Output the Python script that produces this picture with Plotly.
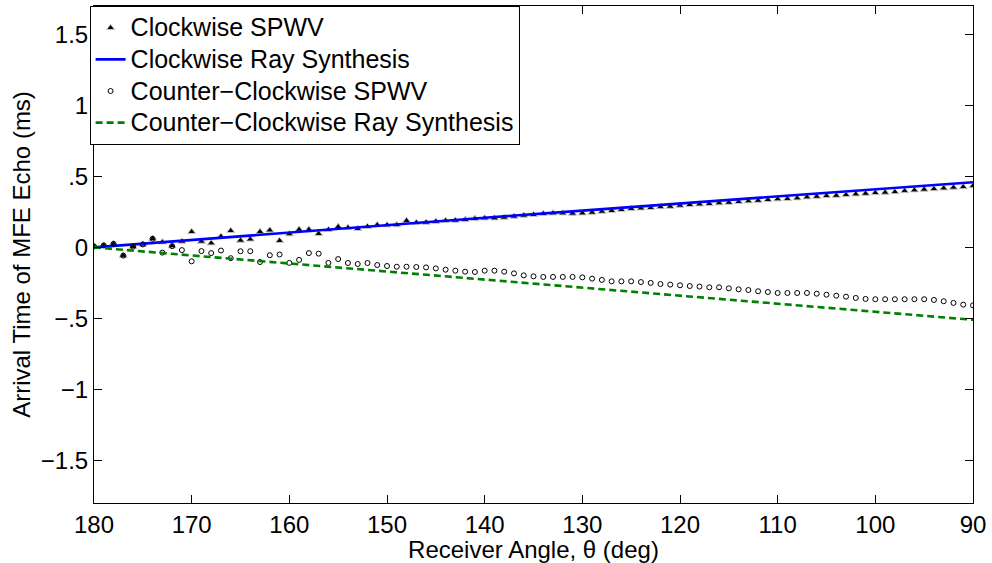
import plotly.graph_objects as go

# Receiver angles (deg), 180 -> 90 in 1-degree steps
theta = list(range(180, 89, -1))

cw_spwv = [
    0.007, 0.014, 0.025, -0.058, 0.005, 0.021, 0.061, 0.037, 0.009, 0.042,
    0.110, 0.042, 0.030, 0.077, 0.117, 0.049, 0.057, 0.110, 0.121, 0.047,
    0.094, 0.126, 0.126, 0.096, 0.124, 0.145, 0.139, 0.131, 0.146, 0.158,
    0.157, 0.158, 0.188, 0.174, 0.176, 0.183, 0.188, 0.190, 0.194, 0.201,
    0.206, 0.206, 0.211, 0.218, 0.225, 0.230, 0.237, 0.241, 0.241, 0.239,
    0.241, 0.246, 0.253, 0.258, 0.265, 0.272, 0.276, 0.279, 0.285, 0.288,
    0.295, 0.300, 0.304, 0.307, 0.312, 0.316, 0.321, 0.326, 0.330, 0.335,
    0.340, 0.342, 0.347, 0.354, 0.358, 0.363, 0.365, 0.370, 0.375, 0.379,
    0.384, 0.387, 0.391, 0.398, 0.403, 0.408, 0.412, 0.417, 0.422, 0.426,
    0.433,
]

ccw_spwv = [
    0.007, 0.014, 0.025, -0.058, 0.005, 0.021, 0.061, -0.037, 0.009, -0.019,
    -0.098, -0.026, -0.040, -0.022, -0.076, -0.027, -0.027, -0.103, -0.055, -0.050,
    -0.109, -0.088, -0.040, -0.044, -0.109, -0.082, -0.110, -0.117, -0.110, -0.124,
    -0.131, -0.136, -0.136, -0.138, -0.141, -0.148, -0.157, -0.164, -0.171, -0.173,
    -0.164, -0.164, -0.171, -0.183, -0.197, -0.204, -0.208, -0.208, -0.208, -0.208,
    -0.211, -0.220, -0.229, -0.239, -0.239, -0.239, -0.244, -0.250, -0.258, -0.262,
    -0.267, -0.272, -0.276, -0.281, -0.281, -0.288, -0.295, -0.300, -0.309, -0.314,
    -0.321, -0.321, -0.321, -0.321, -0.326, -0.333, -0.340, -0.347, -0.356, -0.363,
    -0.365, -0.365, -0.365, -0.365, -0.365, -0.365, -0.370, -0.379, -0.391, -0.403,
    -0.408,
]

ray_theta = [180, 170, 160, 150, 140, 130, 120, 110, 100, 90]
cw_ray = [0.0, 0.053, 0.106, 0.158, 0.209, 0.259, 0.309, 0.359, 0.409, 0.459]
ccw_ray = [0.0, -0.057, -0.113, -0.170, -0.227, -0.283, -0.340, -0.397, -0.453, -0.510]

series_names = [
    "Clockwise SPWV",
    "Clockwise Ray Synthesis",
    "Counter\u2212Clockwise SPWV",
    "Counter\u2212Clockwise Ray Synthesis",
]

y_tickvals = [-1.5, -1, -0.5, 0, 0.5, 1, 1.5]
y_ticktext = ["\u22121.5", "\u22121", "\u2212.5", "0", ".5", "1", "1.5"]
x_tickvals = [180, 170, 160, 150, 140, 130, 120, 110, 100, 90]

FONT = "Liberation Sans, Arial, Helvetica, sans-serif"


def legend_label(s):
    return '<span style="font-size:25px">' + s + "</span>"


fig = go.Figure()
fig.add_trace(go.Scatter(
    x=theta, y=cw_spwv, mode="markers", name=legend_label(series_names[0]),
    marker=dict(symbol="triangle-up", size=7, color="black",
                line=dict(color="#c8c8c0", width=1)),
))
fig.add_trace(go.Scatter(
    x=ray_theta, y=cw_ray, mode="lines", name=legend_label(series_names[1]),
    line=dict(color="#0000ff", width=2.6),
))
fig.add_trace(go.Scatter(
    x=theta, y=ccw_spwv, mode="markers", name=legend_label(series_names[2]),
    marker=dict(symbol="circle-open", size=5, color="black",
                line=dict(color="black", width=1)),
))
fig.add_trace(go.Scatter(
    x=ray_theta, y=ccw_ray, mode="lines", name=legend_label(series_names[3]),
    line=dict(color="#008000", width=2.6, dash="7px,4px"),
))

fig.update_layout(
    width=992, height=563,
    margin=dict(l=94, r=19, t=6, b=60),
    paper_bgcolor="white", plot_bgcolor="white",
    font=dict(family=FONT, size=24, color="black"),
    legend=dict(
        x=-0.005, y=1.0, xanchor="left", yanchor="top",
        bgcolor="white", bordercolor="black", borderwidth=1,
        font=dict(family=FONT, size=22, color="black"),
        tracegroupgap=0,
    ),
    xaxis=dict(
        range=[180, 90], tickvals=x_tickvals,
        ticks="inside", ticklen=8, tickcolor="black",
        showline=True, linecolor="black", linewidth=1, mirror="ticks",
        showgrid=False, zeroline=False,
        tickfont=dict(family=FONT, size=24),
        title=dict(text="Receiver Angle, \u03b8 (deg)", standoff=0,
                   font=dict(family=FONT, size=24)),
    ),
    yaxis=dict(
        range=[-1.8, 1.7], tickvals=y_tickvals, ticktext=y_ticktext,
        ticks="inside", ticklen=8, tickcolor="black",
        showline=True, linecolor="black", linewidth=1, mirror="ticks",
        showgrid=False, zeroline=False,
        tickfont=dict(family=FONT, size=24),
        title=dict(text="Arrival Time of MFE Echo (ms)", standoff=3,
                   font=dict(family=FONT, size=24)),
    ),
    showlegend=True,
)

fig.write_html("out.html", config={"displayModeBar": False},
               post_script="document.body.style.margin='0px';")
